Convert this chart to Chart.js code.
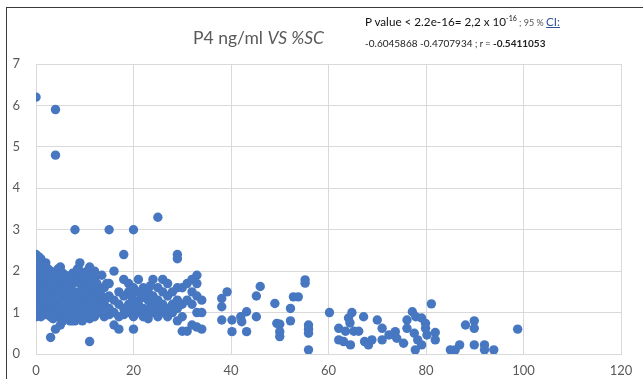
<!DOCTYPE html>
<html>
<head>
<meta charset="utf-8">
<script src="https://cdn.jsdelivr.net/npm/chart.js@4"></script>
<style>
  body { margin: 0; background: #fff; }
  #wrap { position: relative; width: 643px; height: 379px; overflow: hidden; }
  #topline { position: absolute; left: 6px; top: 7px; width: 640px; height: 1px; background: #3a3a3a; }
  #leftline { position: absolute; left: 6px; top: 7px; width: 1px; height: 380px; background: #3a3a3a; }
  #title { position: absolute; left: 193px; top: 27px; font-family: Lato, "Open Sans", sans-serif;
           font-size: 17.5px; color: #595959; white-space: nowrap; }
  #note1 { position: absolute; left: 365px; top: 14px; font-family: Lato, "Open Sans", sans-serif;
           font-size: 11.7px; color: #111; white-space: nowrap; }
  #note1 sup { font-size: 7px; }
  #note1 .sm { font-size: 9px; color: #555; }
  #note1 u { color: #2f5597; }
  #note2 { position: absolute; left: 365px; top: 37px; font-family: Lato, "Open Sans", sans-serif;
           font-size: 10px; color: #222; white-space: nowrap; }
  canvas { position: absolute; left: 0; top: 0; }
</style>
</head>
<body>
<div id="wrap">
  <canvas id="scChart" width="643" height="379"></canvas>
  <div id="topline"></div>
  <div id="leftline"></div>
  <div id="title">P4 ng/ml <i>VS %SC</i></div>
  <div id="note1">P value &lt; 2.2e-16= 2,2 x 10<sup>-16</sup><span class="sm"> ; 95 % </span><u>CI:</u></div>
  <div id="note2">-0.6045868 -0.4707934 <span style="font-size:9px">; r =</span> <b>-0.5411053</b></div>
</div>
<script>
// %SC values in the dense left band, one entry per column
const leftSc = [0, 1, 2, 3, 4, 5, 6, 7, 8, 9, 10, 11, 12, 13, 14, 15, 16, 17,
  18, 19, 20, 21, 22, 23, 24, 25, 26, 27, 28, 29, 30, 31, 32, 33, 34];
// P4 (ng/ml) values for each column above
const leftP4 = [
  [6.2, 2.4, 2.3, 2.2, 2.1, 2.0, 1.9, 1.8, 1.7, 1.6, 1.5, 1.4, 1.3, 1.2, 1.1, 1.0, 0.9],
  [2.3, 2.2, 2.0, 1.8, 1.6, 1.5, 1.3, 1.2, 1.0, 0.9],
  [2.2, 1.9, 1.7, 1.5, 1.4, 1.2, 1.1, 0.95],
  [2.0, 1.8, 1.6, 1.4, 1.3, 1.1, 0.9, 0.4],
  [5.9, 4.8, 1.9, 1.7, 1.5, 1.2, 1.0, 0.6],
  [2.1, 2.0, 1.8, 1.6, 1.4, 1.3, 1.1, 0.9, 0.7],
  [1.9, 1.7, 1.5, 1.2, 1.0, 0.85],
  [1.8, 1.6, 1.4, 1.3, 1.1, 0.95, 0.8],
  [3.0, 1.9, 1.5, 1.2, 1.0, 0.8],
  [2.2, 2.0, 1.7, 1.4, 1.1, 0.9],
  [1.9, 1.8, 1.6, 1.3, 1.2, 1.0],
  [2.1, 1.7, 1.5, 1.2, 1.0, 0.85, 0.3],
  [2.0, 1.8, 1.4, 1.1, 0.9],
  [1.6, 1.3, 1.0],
  [1.6, 1.2, 0.9],
  [3.0, 1.7, 1.4, 1.1, 0.95],
  [2.0, 1.3, 1.0, 0.7],
  [1.5, 1.2, 0.9, 0.6],
  [2.4, 1.8, 1.4, 1.1, 0.95],
  [1.7, 1.5, 1.2, 1.0],
  [3.0, 1.6, 1.3, 1.1, 0.9, 0.6],
  [1.8, 1.5, 1.2, 1.0],
  [1.6, 1.4, 1.1, 0.9],
  [1.5, 1.3, 1.0, 0.85],
  [1.8, 1.4, 1.2, 1.0],
  [3.3, 1.6, 1.3, 1.1, 0.9],
  [1.8, 1.5, 1.2, 1.0],
  [1.7, 1.4, 1.1, 0.9],
  [1.5, 1.2, 1.0],
  [2.4, 2.3, 1.6, 1.3, 1.1, 0.8],
  [1.6, 1.2, 0.9, 0.55],
  [1.7, 1.3, 0.55],
  [1.8, 1.5, 1.2, 0.7],
  [1.9, 1.7, 1.4, 1.0, 0.65],
  [1.3, 1.0, 0.6]
];

// in-between columns that fill the dense block
const midSc = [0.5, 1.5, 2.5, 3.5, 4.5, 5.5, 6.5, 7.5, 8.5, 9.5, 10.5, 11.5,
  12.5, 13.5, 14.5, 19.5, 21.5, 23.5];
const midP4 = [
  [2.35, 2.05, 1.75, 1.45, 1.15, 0.95],
  [2.15, 1.85, 1.55, 1.25, 0.95],
  [2.05, 1.8, 1.45, 1.25, 1.0],
  [1.95, 1.65, 1.35, 1.05, 0.85],
  [2.05, 1.8, 1.35, 1.1, 0.9],
  [1.95, 1.55, 1.25, 1.0, 0.8],
  [1.85, 1.6, 1.3, 1.1, 0.9],
  [1.95, 1.7, 1.5, 1.2, 1.0, 0.8],
  [2.05, 1.75, 1.35, 1.1, 0.9],
  [1.85, 1.55, 1.25, 1.0, 0.8],
  [2.0, 1.7, 1.4, 1.1, 0.9],
  [1.9, 1.6, 1.3, 1.1],
  [1.7, 1.5, 1.2, 1.0],
  [1.9, 1.4, 1.15],
  [1.7, 1.35, 1.05],
  [1.4, 1.15],
  [1.35, 1.1],
  [1.65, 1.15]
];

// sparse right part, paired values
const rightSc = [38.1, 38.1, 38.1, 39.2, 40.2, 40.2, 42, 42.2, 43.2, 43.2,
  45.2, 45.2, 46, 49, 49.4, 50, 50, 50, 52.2, 52.2,
  52.8, 53.8, 55.2, 55.2, 55.9, 55.9, 55.9, 55.9, 60.2,
  62.1, 62.1, 63.1, 63.5, 64.1, 64.4, 64.5, 64.8, 65.2, 66.2,
  67.2, 67.4, 68.2, 68.9, 70, 71, 71, 72.4, 73.7, 74,
  75.4, 76.1, 76.1, 77.2, 77.9, 77.6, 78.3, 77.8, 79.1, 79.1,
  79.9, 79.9, 80.2, 81.1, 81.9, 81.9, 85, 86, 86.9, 88.1,
  89.9, 89.9, 89.9, 92, 92, 93.9, 98.8];
const rightP4 = [1.34, 1.14, 0.82, 1.5, 0.82, 0.54, 0.9, 0.78, 1.02, 0.54,
  0.9, 1.4, 1.63, 1.22, 0.74, 0.72, 0.54, 0.42, 1.1, 0.8,
  1.38, 1.38, 1.79, 1.71, 0.7, 0.6, 0.5, 0.1, 1.0,
  0.62, 0.34, 0.3, 0.55, 0.87, 0.75, 0.22, 1.0, 0.55, 0.55,
  0.9, 0.3, 0.22, 0.34, 0.82, 0.62, 0.34, 0.46, 0.54, 0.38,
  0.26, 0.82, 0.62, 1.02, 0.9, 0.5, 0.34, 0.1, 0.22, 0.87,
  0.74, 0.62, 0.46, 1.21, 0.52, 0.34, 0.1, 0.1, 0.22, 0.7,
  0.8, 0.62, 0.22, 0.22, 0.1, 0.1, 0.6];

const xTicks = [0, 20, 40, 60, 80, 100, 120];
const yTicks = [0, 1, 2, 3, 4, 5, 6, 7];

function buildPoints() {
  const pts = [];
  leftSc.forEach((x, i) => {
    leftP4[i].forEach(y => pts.push({ x: x, y: y }));
  });
  midSc.forEach((x, i) => {
    midP4[i].forEach(y => pts.push({ x: x, y: y }));
  });
  rightSc.forEach((x, i) => pts.push({ x: x, y: rightP4[i] }));
  return pts;
}

const tickFont = { family: "Lato, 'Open Sans', sans-serif", size: 13 };

new Chart(document.getElementById("scChart").getContext("2d"), {
  type: "scatter",
  data: {
    datasets: [
      {
        data: buildPoints(),
        backgroundColor: "#4677c0",
        borderColor: "#4677c0",
        borderWidth: 0,
        pointRadius: 4.7,
      },
    ],
  },
  options: {
    responsive: false,
    animation: false,
    layout: { padding: { top: 64, right: 22, left: 0, bottom: 0 } },
    plugins: { legend: { display: false }, tooltip: { enabled: false } },
    scales: {
      x: {
        type: "linear",
        min: xTicks[0],
        max: xTicks[xTicks.length - 1],
        afterBuildTicks: (s) => { s.ticks = xTicks.map(v => ({ value: v })); },
        afterFit: (s) => { s.height = 25; },
        grid: { color: "#d9d9d9", drawTicks: false },
        border: { color: "#d9d9d9" },
        ticks: { color: "#595959", font: tickFont, padding: 9 },
      },
      y: {
        min: yTicks[0],
        max: yTicks[yTicks.length - 1],
        afterBuildTicks: (s) => { s.ticks = yTicks.map(v => ({ value: v })); },
        afterFit: (s) => { s.width = 36; },
        grid: { color: "#d9d9d9", drawTicks: false },
        border: { color: "#d9d9d9" },
        ticks: { color: "#595959", font: tickFont, padding: 16 },
      },
    },
  },
});
</script>
</body>
</html>
